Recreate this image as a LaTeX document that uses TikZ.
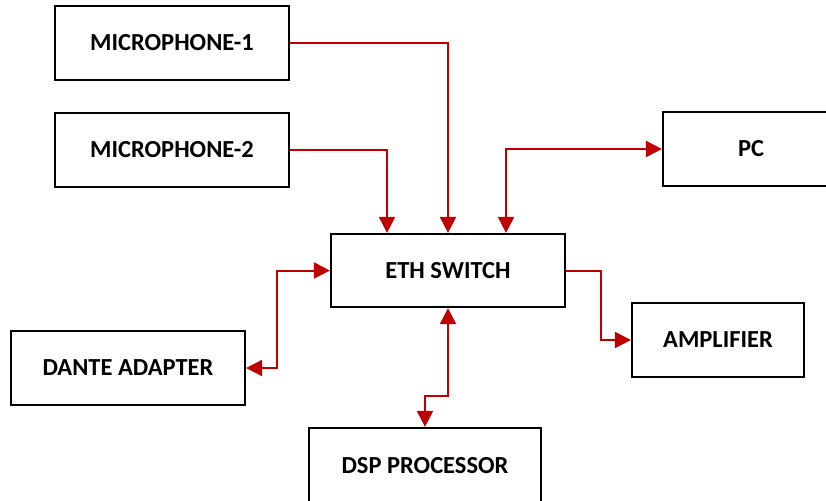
\documentclass[tikz,border=0pt]{standalone}
\usepackage{fontspec}
\setmainfont{Carlito}
\usetikzlibrary{arrows.meta}
\definecolor{linkred}{RGB}{192,0,0}
\tikzset{
  unit/.style={draw,line width=2.2pt,minimum width=234pt,minimum height=74pt,
    inner sep=0pt,font=\fontsize{24.5}{27}\selectfont\bfseries},
  link/.style={draw=linkred,line width=2pt,-{Triangle[length=16pt,width=16pt]}},
  duplex/.style={link,{Triangle[length=16pt,width=16pt]}-{Triangle[length=16pt,width=16pt]}}
}
\begin{document}
\begin{tikzpicture}[x=1pt,y=-1pt,line cap=butt,line join=miter]
  \useasboundingbox (0,0) rectangle (826,500);
  \clip (0,0) rectangle (826,500);

  % Units
  \node[unit] (mic1) at (172,43) {MICROPHONE-1};
  \node[unit] (mic2) at (172,150) {MICROPHONE-2};
  \node[unit,minimum width=176pt] (pc) at (751,149) {PC};
  \node[unit,minimum height=73pt] (eth) at (448,270.5) {ETH SWITCH};
  \node[unit,minimum width=172pt] (amp) at (718,340) {AMPLIFIER};
  \node[unit] (dante) at (128,368) {DANTE ADAPTER};
  \node[unit,minimum width=232pt,minimum height=76pt] (dsp) at (425,466) {DSP PROCESSOR};

  % Links into and out of the switch
  \draw[link] (mic1.east) -| (eth.north);
  \draw[link] (mic2.east) -| ([xshift=-61pt]eth.north);
  \draw[duplex] ([xshift=58pt]eth.north) |- (pc.west);
  \draw[link] (eth.east) -- ++(35,0) |- (amp.west);
  \draw[duplex] (dante.east) -- ++(31,0) |- (eth.west);
  \draw[duplex] (eth.south) -- ++(0,88) -| (dsp.north);
\end{tikzpicture}
\end{document}
